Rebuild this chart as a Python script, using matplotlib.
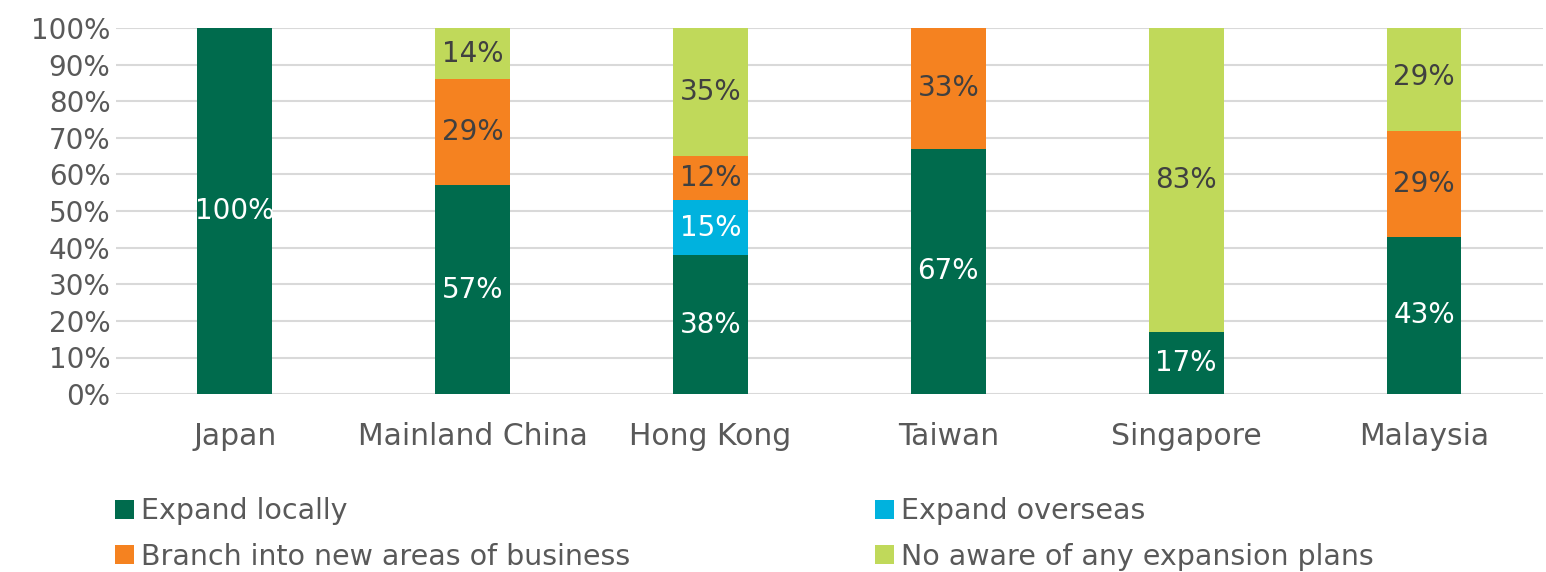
import matplotlib
matplotlib.use("Agg")
import matplotlib.pyplot as plt
import numpy as np

categories = ["Japan", "Mainland China", "Hong Kong", "Taiwan", "Singapore", "Malaysia"]
series_names = ["Expand locally", "Expand overseas", "Branch into new areas of business",
                "No aware of any expansion plans"]
expand_locally = [100, 57, 38, 67, 17, 43]
expand_overseas = [0, 0, 15, 0, 0, 0]
branch_new = [0, 29, 12, 33, 0, 29]
no_aware = [0, 14, 35, 0, 83, 29]
yticks = [0, 10, 20, 30, 40, 50, 60, 70, 80, 90, 100]

colors = ["#006B4D", "#00B2DE", "#F58220", "#C0D95A"]
label_colors = ["white", "white", "#404040", "#404040"]

plt.rcParams['font.family'] = ['DejaVu Sans']
fig = plt.figure(figsize=(15.46, 5.72), dpi=100)
ax = fig.add_axes([0.075, 0.311, 0.923, 0.640])

x = np.arange(len(categories))
bottom = np.zeros(len(categories))
bars = []
for vals, name, col, lc in zip([expand_locally, expand_overseas, branch_new, no_aware],
                               series_names, colors, label_colors):
    vals = np.array(vals, dtype=float)
    b = ax.bar(x, vals, 0.315, bottom=bottom, color=col, label=name, zorder=3)
    bars.append(b)
    for xi, v, bt in zip(x, vals, bottom):
        if v > 0:
            ax.text(xi, bt + v / 2, f"{int(v)}%", ha="center", va="center",
                    color=lc, fontsize=20, zorder=4)
    bottom += vals

ax.set_xlim(-0.5, len(categories) - 0.5)
ax.set_ylim(0, 100)
ax.set_yticks(yticks)
ax.set_yticklabels([f"{t}%" for t in yticks])
ax.set_xticks(x)
ax.set_xticklabels(categories)
ax.tick_params(axis="both", length=0, colors="#595959")
ax.tick_params(axis="y", labelsize=20, pad=4)
ax.tick_params(axis="x", labelsize=21.5, pad=20)
ax.grid(axis="y", color="#D9D9D9", linewidth=1.5, zorder=0)
for s in ax.spines.values():
    s.set_visible(False)

order = [0, 2, 1, 3]
leg = fig.legend([bars[i] for i in order], [series_names[i] for i in order],
                 loc="lower left", bbox_to_anchor=(0.058, -0.043), ncol=2,
                 frameon=False, fontsize=20.5, handlelength=0.65, handleheight=0.65,
                 handletextpad=0.25, columnspacing=8.6, labelspacing=0.63)
for t in leg.get_texts():
    t.set_color("#595959")

fig.savefig("out.png", dpi=100)
